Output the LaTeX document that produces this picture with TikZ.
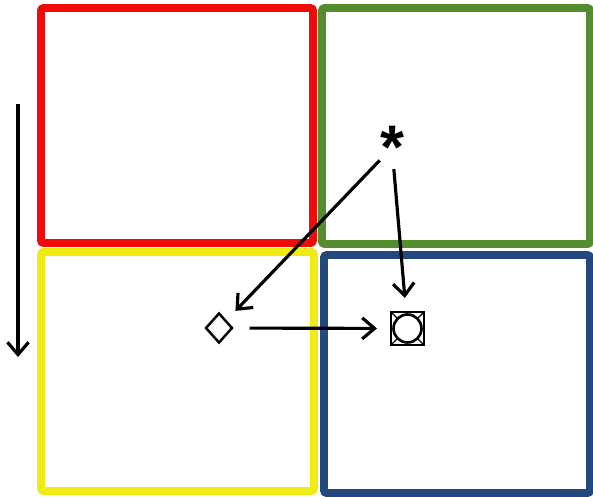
\documentclass[tikz,border=0pt]{standalone}
\usepackage{fontspec}
\newfontfamily\starfont{Liberation Sans}
\usetikzlibrary{arrows.meta, shapes.geometric}

\definecolor{boxred}{RGB}{240,10,10}
\definecolor{boxgreen}{RGB}{84,140,46}
\definecolor{boxyellow}{RGB}{240,235,20}
\definecolor{boxblue}{RGB}{35,72,125}

\begin{document}
\begin{tikzpicture}[
    x=0.02cm, y=-0.02cm,
    quad/.style={draw, line width=4.5pt, rounded corners=1.5pt},
    arrow/.style={-{Straight Barb[length=7pt, width=12pt]}, line width=1.8pt},
    symbol/.style={draw, line width=1.4pt, inner sep=0pt, outer sep=0pt}
]
\useasboundingbox (0,0) rectangle (593,497);
\node[quad, draw=boxred, minimum width=5.44cm, minimum height=4.70cm] (q1) at (177,125.5) {};
\node[quad, draw=boxgreen, minimum width=5.36cm, minimum height=4.72cm] (q2) at (456,126) {};
\node[quad, draw=boxyellow, minimum width=5.46cm, minimum height=4.78cm] (q3) at (177.5,371.5) {};
\node[quad, draw=boxblue, minimum width=5.32cm, minimum height=4.76cm] (q4) at (457,374) {};

\node[inner sep=0pt, anchor=north, font=\starfont\bfseries\fontsize{35}{35}\selectfont] (star) at (392,126) {*};
\node[symbol, diamond, minimum width=0.52cm, minimum height=0.58cm] (dia) at (219,328) {};
\node[symbol, rectangle, minimum size=0.66cm, line width=1.6pt] (sq) at (407.5,328.5) {};
\draw[line width=1.5pt] (sq.center) circle (0.28cm);
\foreach \a in {45,135,225,315}
  \draw[line width=0.8pt] ([shift={(\a:0.28cm)}]sq.center) -- (sq.\a);

\coordinate (top) at (18,104);
\coordinate (bottom) at (18,357);
\draw[arrow] (top) -- (bottom);
\draw[arrow, shorten >=8pt] (star) -- (dia);
\draw[arrow, shorten >=8pt] (star) -- (sq);
\draw[arrow, shorten <=10pt, shorten >=8pt] (dia) -- (sq);
\end{tikzpicture}
\end{document}
